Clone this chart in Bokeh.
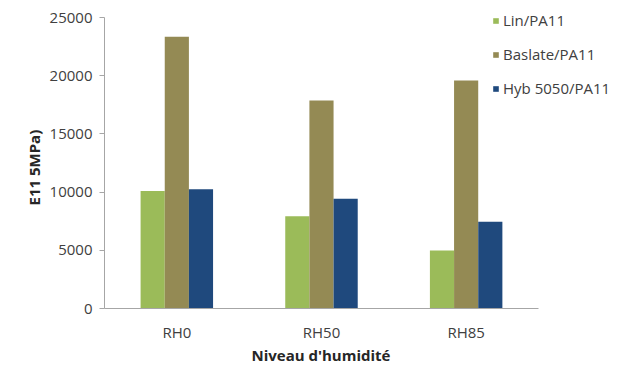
from bokeh.plotting import figure
from bokeh.models import ColumnDataSource, Range1d, FixedTicker, Legend, LegendItem, Title
from bokeh.transform import dodge
from bokeh.embed import file_html
from bokeh.resources import INLINE

categories = ["RH0", "RH50", "RH85"]
series_names = ["Lin/PA11", "Baslate/PA11", "Hyb 5050/PA11"]
lin = [10100, 7930, 4980]
basalte = [23340, 17870, 19590]
hyb = [10250, 9420, 7450]
colors = ["#9BBB59", "#948A54", "#1F497D"]
y_ticks = [0, 5000, 10000, 15000, 20000, 25000]
y_max = 25000

centers = [i + 0.5 for i in range(len(categories))]
src = ColumnDataSource(dict(x=centers, lin=lin, bas=basalte, hyb=hyb))

FONT = "Open Sans"
TOP = 5  # frame top; 25000 sits at 17px
p = figure(width=632, height=371, x_range=Range1d(0, 3.65),
           y_range=Range1d(0, y_max * (308 - TOP) / 291), output_backend="svg",
           toolbar_location=None,
           min_border_left=104, min_border_right=0, min_border_top=TOP, min_border_bottom=63)
p.outline_line_color = None
p.grid.grid_line_color = None
p.background_fill_color = "white"
p.border_fill_color = "white"

bw = 0.167
renderers = []
for col, off, c in zip(["lin", "bas", "hyb"], [-bw, 0, bw], colors):
    r = p.vbar(x=dodge("x", off), top=col, width=bw, bottom=0,
               source=src, fill_color=c, line_color=None)
    renderers.append(r)

items = [LegendItem(label=n, renderers=[r]) for n, r in zip(series_names, renderers)]
legend = Legend(items=items, location=(388, 210), orientation="vertical",
                glyph_width=7, glyph_height=7, label_height=20, spacing=14,
                padding=0, margin=0, label_standoff=4, border_line_color=None,
                background_fill_alpha=0, label_text_font=FONT,
                label_text_font_size="15px", label_text_color="#404040")
p.add_layout(legend, "center")

p.yaxis.ticker = FixedTicker(ticks=y_ticks)
p.yaxis.bounds = (0, y_max)
p.xaxis.ticker = FixedTicker(ticks=centers)
p.xaxis.bounds = (0, len(categories))
p.xaxis.major_label_overrides = {c: n for c, n in zip(centers, categories)}
for ax in (p.xaxis, p.yaxis):
    ax.axis_line_color = "#A6A6A6"
    ax.major_tick_line_color = "#A6A6A6"
    ax.minor_tick_line_color = None
    ax.major_label_text_font = FONT
    ax.major_label_text_font_size = "15px"
    ax.major_label_text_color = "#404040"
p.yaxis.major_tick_in = 0
p.yaxis.major_tick_out = 5
p.yaxis.major_label_standoff = 7
p.xaxis.major_tick_line_color = None
p.xaxis.major_tick_in = 0
p.xaxis.major_tick_out = 0
p.xaxis.major_label_standoff = 13

xtitle = Title(text="Niveau d'humidité", align="left", offset=147, standoff=0,
               text_font=FONT, text_font_size="15px", text_font_style="bold",
               text_color="#262626", text_line_height=0.8, vertical_align="top")
p.add_layout(xtitle, "below")
ytitle = Title(text="E11 5MPa)", align="left", offset=103, standoff=6,
               text_font=FONT, text_font_size="15px", text_font_style="bold",
               text_color="#262626")
p.add_layout(ytitle, "left")

open("out.html", "w").write(file_html(p, INLINE))
